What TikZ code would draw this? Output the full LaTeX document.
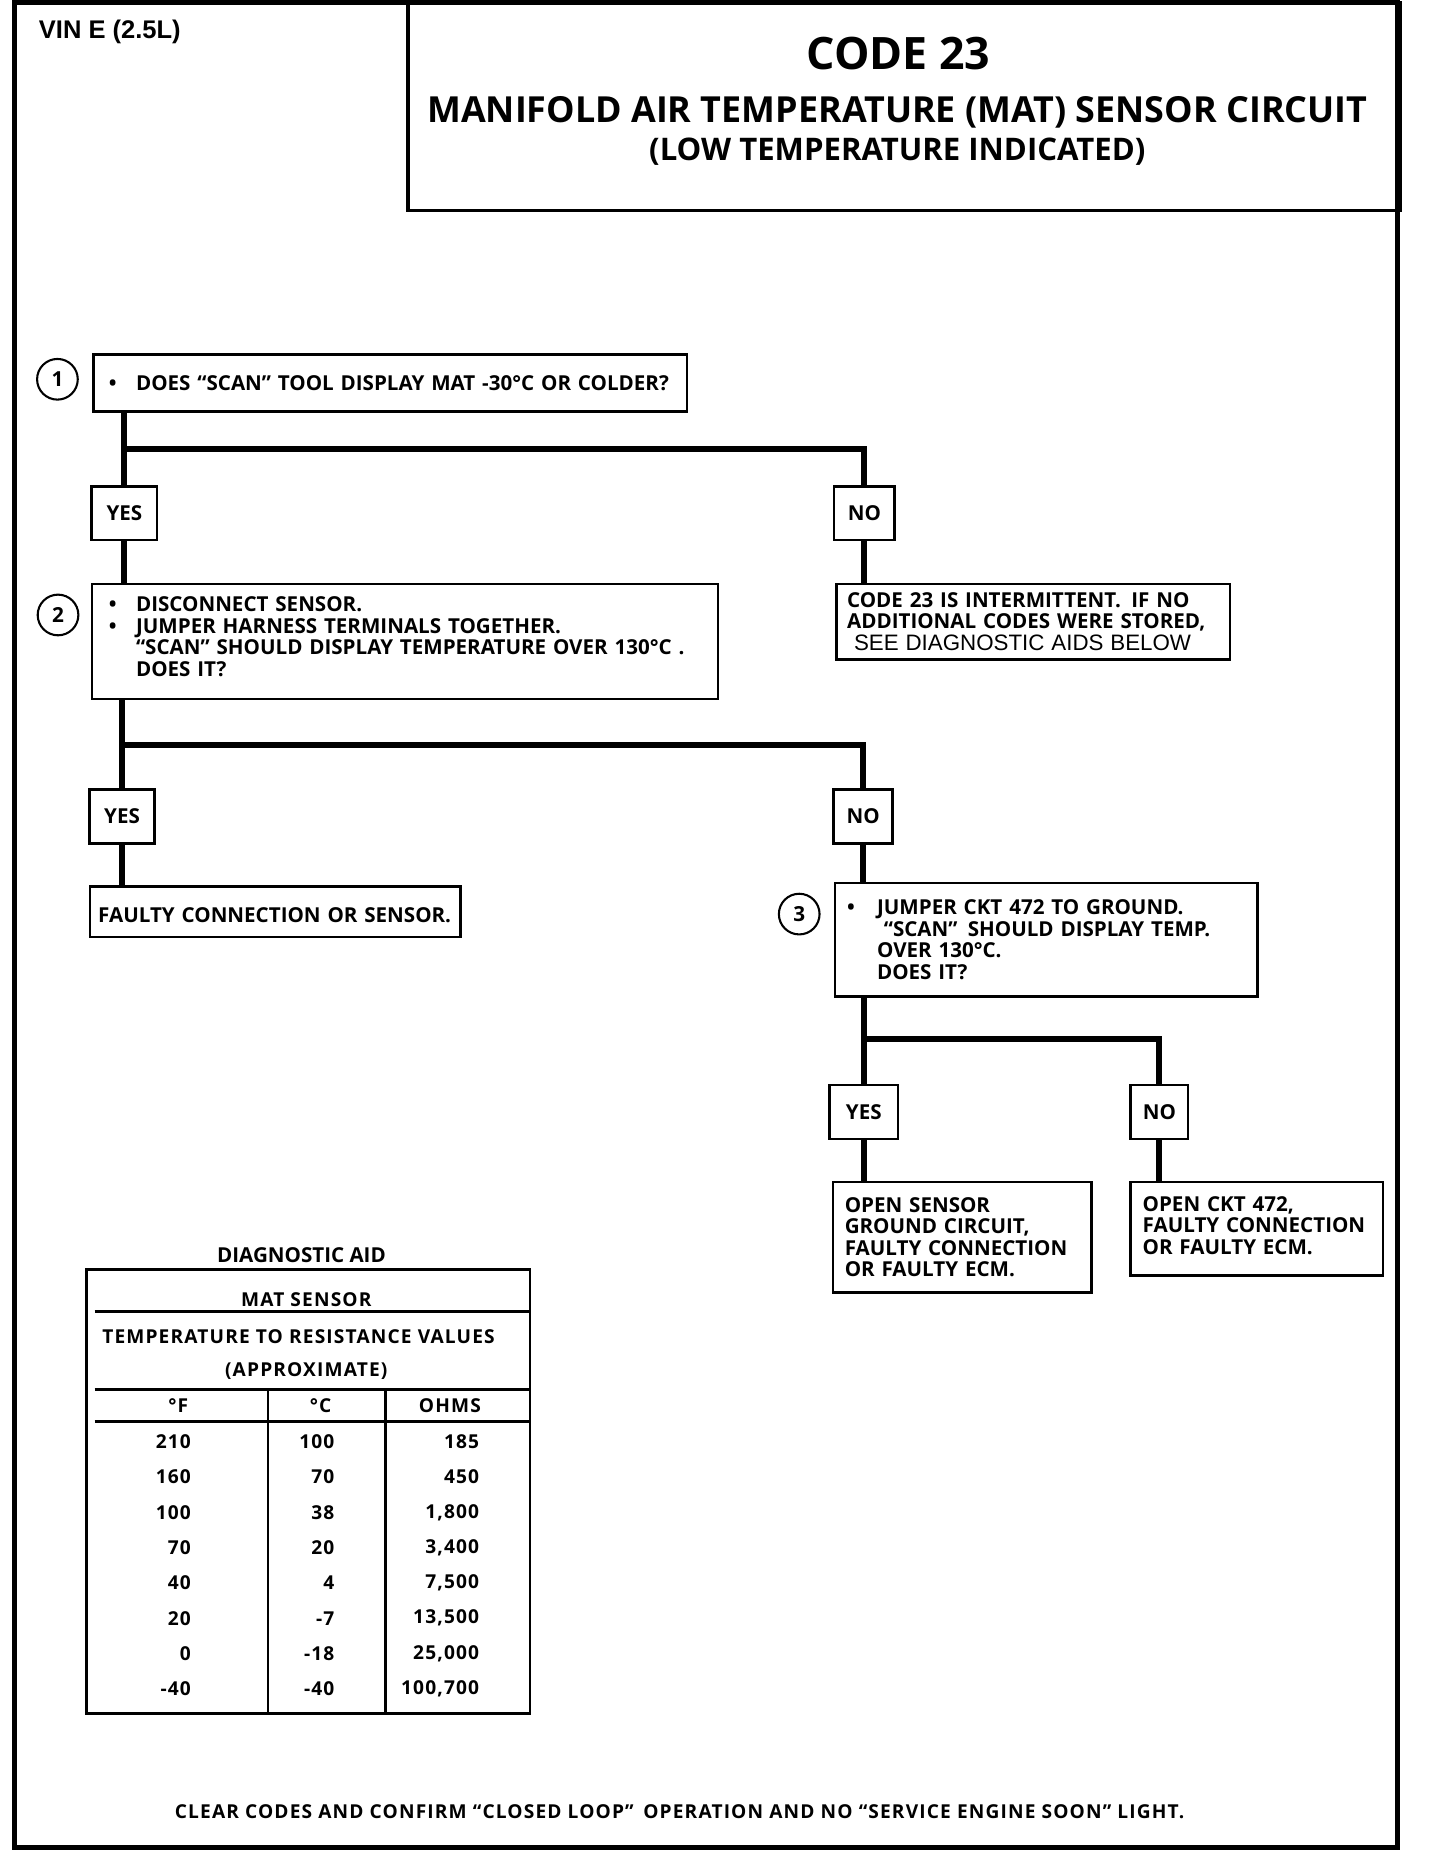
\documentclass[tikz,border=0pt]{standalone}
\usepackage{fontspec}
\setmainfont{Open Sans}
\newfontfamily\tablefont[LetterSpace=6]{Open Sans}
\newfontfamily\arialfont{Liberation Sans}
\newcommand{\boxfont}{\bfseries\fontsize{12.9}{13.5}\selectfont}
\newcommand{\bul}{\makebox[17pt][l]{\textbullet}}
\newcommand{\stepind}{\hspace*{17pt}}

\tikzset{every picture/.style={line width=0.75pt}}
\tikzset{
  stepbox/.style={draw, line width=1.6pt, anchor=north west, inner xsep=7.5pt, inner ysep=0pt, align=left, font=\boxfont},
  ansbox/.style={draw, line width=1.6pt, minimum width=41pt, minimum height=33.75pt, inner sep=0pt, font=\boxfont},
  numcirc/.style={circle, draw, line width=1.3pt, minimum size=25.5pt, inner sep=0pt, font=\bfseries\fontsize{13}{13}\selectfont},
  link/.style={line width=3.75pt},
  tblline/.style={line width=1.8pt},
  tcell/.style={inner sep=0.75pt, font=\tablefont\bfseries\fontsize{12}{12}\selectfont},
}

\begin{document}
\begin{tikzpicture}[x=0.75pt,y=0.75pt,yscale=-1,xscale=1]
\useasboundingbox (0,0) rectangle (1203,1568);

%Shape: Rectangle [page frame]
\draw [line width=3pt] (12,2) rectangle (1168,1544);
%Shape: Rectangle [title block]
\draw [line width=2.2pt] (341,2) rectangle (1170,176);

% Text Node
\draw (31,27) node [anchor=west][inner sep=0.75pt] [font=\arialfont\bfseries\fontsize{16}{16}\selectfont] (vin) {VIN E (2.5L)};
% Text Node
\draw (751,45) node [inner sep=0.75pt] [font=\bfseries\fontsize{28}{28}\selectfont] (code) {CODE 23};
% Text Node
\draw (750,94) node [inner sep=0.75pt] [font=\bfseries\fontsize{22.5}{22.5}\selectfont] (ttl) {MANIFOLD AIR TEMPERATURE (MAT) SENSOR CIRCUIT};
% Text Node
\draw (750,127) node [inner sep=0.75pt] [font=\bfseries\fontsize{19.5}{19.5}\selectfont] (sub) {(LOW TEMPERATURE INDICATED)};

% Step 1
\draw (48,317) node [numcirc] (c1) {1};
\draw (77,295) node [stepbox, inner xsep=9.75pt, text width=352.5pt, minimum height=36pt] (box1) {\bul DOES “SCAN” TOOL DISPLAY MAT -30°C OR COLDER?};
\coordinate (split1) at (104,375);
\draw (104,429) node [ansbox] (yes1) {YES};
\draw (722.5,429) node [ansbox, minimum width=38pt] (no1) {NO};

% Step 2
\draw (48.5,514) node [numcirc] (c2) {2};
\draw (76,487) node [stepbox, inner xsep=10.5pt, text width=371.25pt, minimum height=72pt] (box2) {\bul DISCONNECT SENSOR.\\ \bul JUMPER HARNESS TERMINALS TOGETHER.\\ \stepind“SCAN” SHOULD DISPLAY TEMPERATURE OVER 130°C .\\ \stepind DOES IT?\vspace*{6pt}};
\draw (698,487) node [stepbox, inner xsep=6.75pt, text width=233.25pt, minimum height=47.25pt] (int1) {CODE 23 IS INTERMITTENT.\enspace IF NO\\ ADDITIONAL CODES WERE STORED,\\ {\arialfont\mdseries\fontsize{14}{13.5}\selectfont\ SEE DIAGNOSTIC AIDS BELOW}};
\coordinate (split2) at (102,623);
\draw (102,682.5) node [ansbox] (yes2) {YES};
\draw (721.5,682.5) node [ansbox, minimum width=37pt] (no2) {NO};
\draw (74,740) node [stepbox, inner xsep=5.25pt, text width=222pt, minimum height=31.5pt] (fault1) {\rule{0pt}{13pt}\mbox{FAULTY CONNECTION OR SENSOR.}};

% Step 3
\draw (668,764) node [numcirc] (c3) {3};
\draw (697,737) node [stepbox, text width=249.75pt, minimum height=71.25pt] (box3) {\makebox[18.75pt][l]{\textbullet}JUMPER CKT 472 TO GROUND.\\ \hspace*{23pt}“SCAN”\enspace SHOULD DISPLAY TEMP.\\ \hspace*{18.75pt}OVER 130°C.\\ \hspace*{18.75pt}DOES IT?};
\coordinate (split3) at (722,868);
\draw (722,929.5) node [ansbox, minimum width=43pt] (yes3) {YES};
\draw (969,929.5) node [ansbox, minimum width=36pt] (no3) {NO};
\draw (695,987) node [stepbox, text width=147pt, minimum height=69pt] (open1) {OPEN SENSOR\\ GROUND CIRCUIT,\\ FAULTY CONNECTION\\ OR FAULTY ECM.};
\draw (944,987) node [stepbox, text width=143.25pt, minimum height=58.5pt] (open2) {OPEN CKT 472,\\ FAULTY CONNECTION\\ OR FAULTY ECM.\vspace*{4pt}};

%Straight Lines [connectors]
\draw [link] (box1.south -| split1) -- (yes1.north);
\draw [link] (split1) -| (no1.north);
\draw [link] (yes1.south) -- (yes1.south |- box2.north);
\draw [link] (no1.south) -- (no1.south |- int1.north);
\draw [link] (box2.south -| split2) -- (yes2.north);
\draw [link] (split2) -| (no2.north);
\draw [link] (yes2.south) -- (yes2.south |- fault1.north);
\draw [link] (no2.south) -- (no2.south |- box3.north);
\draw [link] (box3.south -| split3) -- (yes3.north);
\draw [link] (split3) -| (no3.north);
\draw [link] (yes3.south) -- (yes3.south |- open1.north);
\draw [link] (no3.south) -- (no3.south |- open2.north);

% Diagnostic aid table
\draw (252,1049) node [inner sep=0.75pt] [font=\boxfont] (aid) {DIAGNOSTIC AID};
\draw [tblline] (72,1061) rectangle (443,1432);
\draw [tblline] (79,1096) -- (443,1096);
\draw [tblline] (79,1161) -- (443,1161);
\draw [tblline] (79,1188) -- (443,1188);
\draw [tblline] (224,1161) -- (224,1432);
\draw [tblline] (322,1161) -- (322,1432);
% Text Node
\draw (256,1086) node [tcell] (mat) {MAT SENSOR};
\draw (84,1117) node [tcell, anchor=west] (trv) {TEMPERATURE TO RESISTANCE VALUES};
\draw (256,1146) node [tcell] (appr) {(APPROXIMATE)};
\draw (149,1175) node [tcell] (hf) {°F};
\draw (268,1175) node [tcell] (hc) {°C};
\draw (376,1175) node [tcell] (ho) {OHMS};
% Rows
\draw (161,1205) node [tcell, anchor=east] {210};  \draw (281,1205) node [tcell, anchor=east] {100}; \draw (402,1205) node [tcell, anchor=east] {185};
\draw (161,1234.5) node [tcell, anchor=east] {160}; \draw (281,1234.5) node [tcell, anchor=east] {70}; \draw (402,1234.5) node [tcell, anchor=east] {450};
\draw (161,1264) node [tcell, anchor=east] {100};  \draw (281,1264) node [tcell, anchor=east] {38};  \draw (402,1264) node [tcell, anchor=east] {1,800};
\draw (161,1293.5) node [tcell, anchor=east] {70}; \draw (281,1293.5) node [tcell, anchor=east] {20}; \draw (402,1293.5) node [tcell, anchor=east] {3,400};
\draw (161,1323) node [tcell, anchor=east] {40};   \draw (281,1323) node [tcell, anchor=east] {4};   \draw (402,1323) node [tcell, anchor=east] {7,500};
\draw (161,1352.5) node [tcell, anchor=east] {20}; \draw (281,1352.5) node [tcell, anchor=east] {-7}; \draw (402,1352.5) node [tcell, anchor=east] {13,500};
\draw (161,1382) node [tcell, anchor=east] {0};    \draw (281,1382) node [tcell, anchor=east] {-18}; \draw (402,1382) node [tcell, anchor=east] {25,000};
\draw (161,1411.5) node [tcell, anchor=east] {-40}; \draw (281,1411.5) node [tcell, anchor=east] {-40}; \draw (402,1411.5) node [tcell, anchor=east] {100,700};

% Text Node
\draw (568,1514) node [inner sep=0.75pt] [font=\tablefont\bfseries\fontsize{12}{12}\selectfont] (clear) {CLEAR CODES AND CONFIRM “CLOSED LOOP”\enspace OPERATION AND NO “SERVICE ENGINE SOON” LIGHT.};

\end{tikzpicture}
\end{document}
